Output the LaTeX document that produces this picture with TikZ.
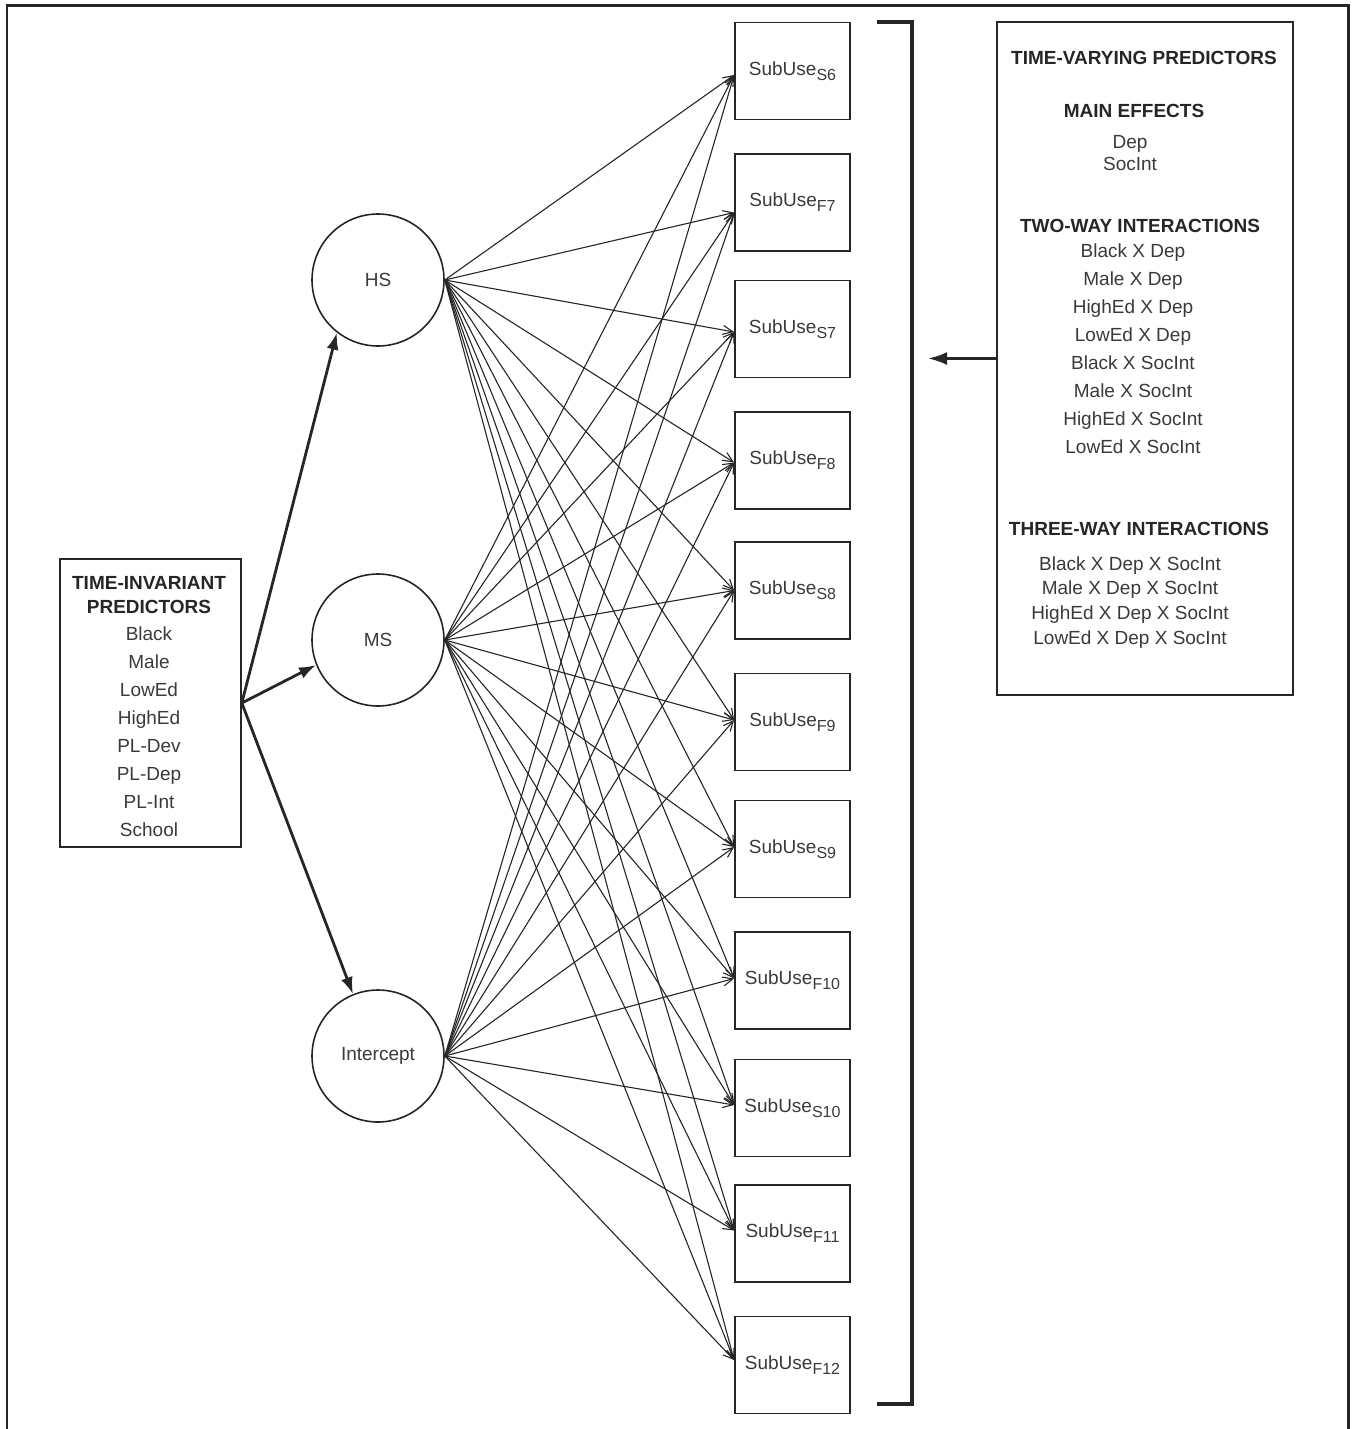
\documentclass[tikz,border=0pt]{standalone}
\usepackage{fontspec}
\setmainfont{Liberation Sans}
\usetikzlibrary{arrows.meta}
\definecolor{ink}{HTML}{262626}
\definecolor{txtc}{HTML}{3A3A3A}
\newcommand{\subuse}[1]{SubUse\raisebox{-5pt}{\fontsize{16}{16}\selectfont #1}}
\begin{document}
\begin{tikzpicture}[x=1pt,y=-1pt,
  every node/.style={font=\fontsize{19}{22}\selectfont, text=txtc},
  frame/.style={draw=ink, line width=2.6pt},
  latent/.style={circle, draw=ink, line width=1.6pt, minimum size=132pt, inner sep=0pt},
  obs/.style={rectangle, draw=ink, line width=1.8pt, minimum width=115pt, minimum height=97pt, inner sep=0pt},
  pbox/.style={rectangle, draw=ink, line width=1.6pt, inner sep=0pt},
  txt/.style={anchor=base, inner sep=0pt},
  hd/.style={anchor=base, inner sep=0pt, font=\fontsize{19}{22}\selectfont\bfseries, text=ink},
  fan/.style={draw=ink, line width=1.1pt, -{Straight Barb[length=10pt,width=9pt,line width=1.1pt]}},
  bold arrow/.style={draw=ink, line width=2.8pt, -{Latex[length=17pt,width=12pt]}},
  bracketline/.style={draw=ink, line width=3.4pt, line join=miter}
]
\useasboundingbox (0,0) rectangle (1355,1429);
\fill[white] (0,0) rectangle (1355,1429);
\draw[frame] (7,1429) -- (7,5.5) -- (1348.5,5.5) -- (1348.5,1429);

% latent factors
\node[latent] (hs) at (378,280) {HS};
\node[latent] (ms) at (378,640) {MS};
\node[latent] (ic) at (378,1056) {Intercept};

% time-invariant predictors
\node[pbox, minimum width=181pt, minimum height=288pt] (tip) at (150.5,703) {};
\node[hd] (tiph1) at (149,589) {TIME-INVARIANT};
\node[hd] (tiph2) at (149,613) {PREDICTORS};
\foreach \t [count=\i] in {Black,Male,LowEd,HighEd,PL-Dev,PL-Dep,PL-Int,School}
  \node[txt] (tipi\i) at (149,612+28*\i) {\t};

% observed boxes
\foreach \b/\y/\s in {s6/71/S6, f7/202.5/F7, s7/329/S7, f8/460.5/F8, s8/590.5/S8, f9/722/F9,
                       s9/849/S9, f10/980.5/F10, s10/1108/S10, f11/1233.5/F11, f12/1365/F12}
  \node[obs] (\b) at (792.5,\y) {\subuse{\s}};

% fan of paths
\foreach \c in {hs,ms,ic}
  \foreach \b/\o in {s6/-4pt, f7/-10pt, s7/-3pt, f8/-2pt, s8/0pt, f9/2pt,
                     s9/2pt, f10/2pt, s10/3pt, f11/3pt, f12/5pt}
    \draw[fan] (\c.east) -- ([yshift=\o]\b.west);

% bold arrows from time-invariant predictors
\draw[bold arrow] (tip.east) -- (hs.232);
\draw[bold arrow] (tip.east) -- (ms.202);
\draw[bold arrow] (tip.east) -- (ic.112);

% bracket
\draw[bracketline] (877,22) -- (912,22) -- (912,1404) -- (877,1404);

% time-varying predictors
\node[pbox, minimum width=296pt, minimum height=673pt] (tvp) at (1145,358.5) {};
\node[hd] (tvph) at (1144,64) {TIME-VARYING PREDICTORS};
\node[hd] (meh) at (1134,117) {MAIN EFFECTS};
\node[txt] (me1) at (1130,148) {Dep};
\node[txt] (me2) at (1130,170) {SocInt};
\node[hd] (twh) at (1140,232) {TWO-WAY INTERACTIONS};
\foreach \t [count=\i] in {Black X Dep, Male X Dep, HighEd X Dep, LowEd X Dep,
                          Black X SocInt, Male X SocInt, HighEd X SocInt, LowEd X SocInt}
  \node[txt] (tw\i) at (1133,230+27.9*\i) {\t};
\node[hd] (thh) at (1139,535) {THREE-WAY INTERACTIONS};
\foreach \t [count=\i] in {Black X Dep X SocInt, Male X Dep X SocInt,
                          HighEd X Dep X SocInt, LowEd X Dep X SocInt}
  \node[txt] (th\i) at (1130,545.3+24.7*\i) {\t};

\coordinate (brk) at (928,358.5);
\draw[draw=ink, line width=2.8pt, -{Latex[length=19pt,width=13pt]}] (tvp.west) -- (brk);
\end{tikzpicture}
\end{document}
